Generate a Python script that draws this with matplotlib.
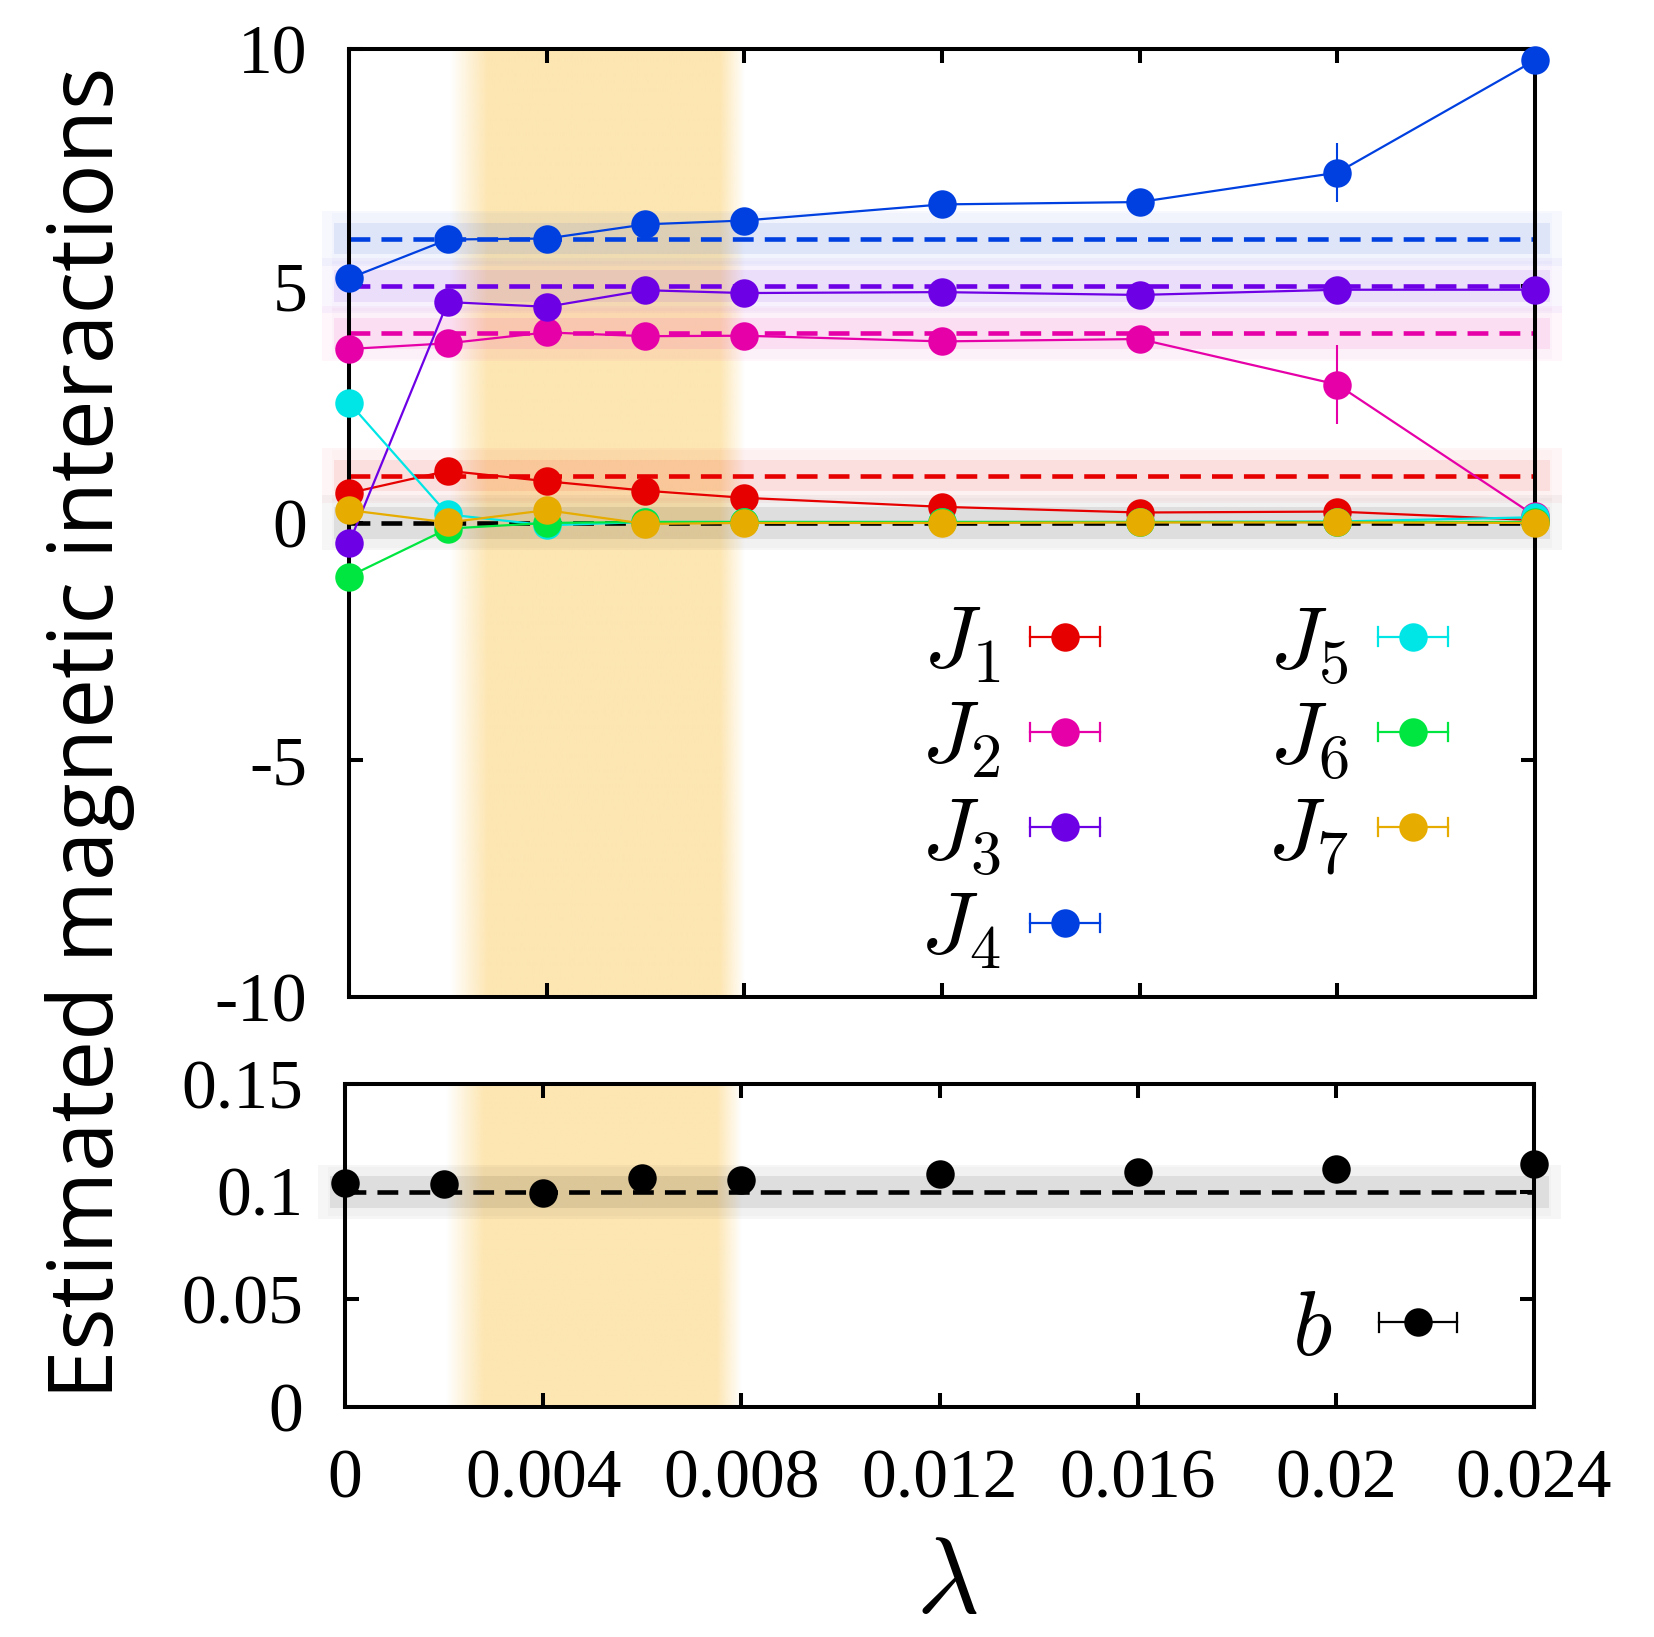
import numpy as np
import matplotlib
matplotlib.use("Agg")
import matplotlib.pyplot as plt
from matplotlib.lines import Line2D
from matplotlib.legend_handler import HandlerBase
from matplotlib.container import ErrorbarContainer
from matplotlib.ticker import FixedLocator, FuncFormatter

# ---------------- data ----------------
lam = [0.0, 0.002, 0.004, 0.006, 0.008, 0.012, 0.016, 0.020, 0.024]

J1 = [0.63, 1.10, 0.88, 0.68, 0.53, 0.34, 0.22, 0.24, 0.06]
J2 = [3.67, 3.79, 4.02, 3.94, 3.95, 3.83, 3.88, 2.92, 0.15]
J3 = [-0.43, 4.66, 4.56, 4.91, 4.85, 4.87, 4.81, 4.92, 4.92]
J4 = [5.16, 5.98, 6.00, 6.30, 6.38, 6.72, 6.77, 7.39, 9.76]
J5 = [2.54, 0.18, -0.05, 0.02, 0.02, 0.02, 0.02, 0.03, 0.12]
J6 = [-1.13, -0.12, 0.00, 0.02, 0.02, 0.02, 0.02, 0.02, 0.02]
J7 = [0.27, 0.01, 0.27, -0.02, 0.00, 0.00, 0.01, 0.01, 0.00]

J1_err = [0.51, 0.08, 0.08, 0.08, 0.08, 0.08, 0.10, 0.12, 0.05]
J2_err = [0.20, 0.10, 0.10, 0.10, 0.10, 0.10, 0.15, 0.83, 0.10]
J3_err = [0.98, 0.10, 0.10, 0.10, 0.10, 0.10, 0.10, 0.12, 0.10]
J4_err = [0.80, 0.10, 0.10, 0.10, 0.10, 0.10, 0.12, 0.62, 0.15]
J5_err = [0.64, 0.08, 0.08, 0.05, 0.05, 0.05, 0.05, 0.05, 0.05]
J6_err = [1.28, 0.08, 0.08, 0.05, 0.05, 0.05, 0.05, 0.05, 0.05]
J7_err = [2.06, 0.08, 0.08, 0.05, 0.05, 0.05, 0.05, 0.05, 0.05]

J_true = [1.0, 4.0, 5.0, 6.0, 0.0, 0.0, 0.0]

b_vals = [0.1042, 0.1035, 0.0996, 0.1064, 0.1055, 0.1081, 0.1091, 0.1106, 0.1129]
b_err = [0.0008] * 9
b_true = 0.1

labels = [r"$J_1$", r"$J_2$", r"$J_3$", r"$J_4$", r"$J_5$", r"$J_6$", r"$J_7$"]
colors = ["#e60000", "#e600a8", "#6e00e6", "#0040e0", "#00e6e6", "#00e640", "#e6ac00"]

x_ticks = [0.0, 0.004, 0.008, 0.012, 0.016, 0.020, 0.024]
y_ticks_top = [-10, -5, 0, 5, 10]
y_ticks_bot = [0.0, 0.05, 0.10, 0.15]

highlight = (0.0020, 0.0080)   # preferred regularisation window

# ---------------- style ----------------
plt.rcParams["font.family"] = ["Liberation Serif", "DejaVu Serif"]
plt.rcParams["mathtext.fontset"] = "cm"
plt.rcParams["axes.unicode_minus"] = False
plt.rcParams["lines.scale_dashes"] = False

fig = plt.figure(figsize=(16.54, 16.37), dpi=100)
ax = fig.add_axes([0.2110, 0.3910, 0.7170, 0.5791])
axb = fig.add_axes([0.2086, 0.1405, 0.7189, 0.1973])

FS_TICK = 50
DASH = (15, 8)
fmt = FuncFormatter(lambda v, p: "%g" % v)


def style_axes(a):
    for s in a.spines.values():
        s.set_linewidth(2.9)
        s.set_zorder(2.8)
    a.tick_params(direction="in", length=10, width=2.9, top=True, right=True,
                  labelsize=FS_TICK, pad=30)
    a.xaxis.set_major_locator(FixedLocator(x_ticks))
    a.xaxis.set_major_formatter(fmt)
    a.yaxis.set_major_formatter(fmt)
    a.set_xlim(0, 0.024)


def vertical_band(a, ylo, yhi):
    xs = np.linspace(highlight[0], highlight[1], 600)
    alpha = np.interp(xs, [0.00204, 0.0028, 0.0075, 0.0080], [0, 1, 1, 0])
    img = np.zeros((1, xs.size, 4))
    img[..., 0] = 253 / 255
    img[..., 1] = 230 / 255
    img[..., 2] = 178 / 255
    img[..., 3] = alpha
    a.imshow(img, extent=(highlight[0], highlight[1], ylo, yhi), aspect="auto",
             interpolation="bilinear", zorder=0)


def horizontal_band(a, y0, color, h_in, h_out):
    # soft two-level band around a reference value, spilling slightly past the frame
    layers = [(h_out, -0.00055, 0.02455, 0.035), (h_out * 0.92, -0.00035, 0.02435, 0.02),
              (h_in, -0.0003, 0.0243, 0.08)]
    for h, x0, x1, al in layers:
        a.fill_between([x0, x1], y0 - h, y0 + h, color=color, alpha=al, lw=0,
                       zorder=1, clip_on=False)


def draw_errorbar(a, xs, ys, es, c, z, **kw):
    eb = a.errorbar(xs, ys, yerr=es, color=c, marker="o", ms=20.5, mew=0,
                    elinewidth=1.5, capsize=5.4, capthick=1.5,
                    clip_on=False, zorder=z, **kw)
    # vertical bars sit beneath the frame, markers and caps above it
    for coll in eb.lines[2]:
        coll.set_zorder(2.6)
    return eb


# ---------------- top panel ----------------
style_axes(ax)
ax.set_ylim(-10, 10)
ax.yaxis.set_major_locator(FixedLocator(y_ticks_top))
ax.tick_params(labelbottom=False)
vertical_band(ax, -10, 10)

for i, (v, c) in enumerate(zip(J_true, colors)):
    if i < 4:
        horizontal_band(ax, v, c, 0.33, 0.58)
        ax.axhline(v, color=c, lw=3.3, dashes=DASH, zorder=2)
horizontal_band(ax, 0.0, "black", 0.33, 0.58)
ax.axhline(0.0, color="black", lw=3.3, dashes=DASH, zorder=2)

series = [J1, J2, J3, J4, J5, J6, J7]
errs = [J1_err, J2_err, J3_err, J4_err, J5_err, J6_err, J7_err]
containers = []
for i, (ys, es, c) in enumerate(zip(series, errs, colors)):
    containers.append(draw_errorbar(ax, lam, ys, es, c, 3 + 0.1 * i, lw=1.6))


class HErrHandler(HandlerBase):
    def create_artists(self, legend, orig_handle, xdescent, ydescent,
                       width, height, fontsize, trans):
        c = orig_handle.lines[0].get_color()
        x0, x1 = -xdescent, -xdescent + width
        y = 0.5 * height - ydescent
        cap = 6.5
        arts = [Line2D([x0, x1], [y, y], color=c, lw=1.6),
                Line2D([x0, x0], [y - cap, y + cap], color=c, lw=1.6),
                Line2D([x1, x1], [y - cap, y + cap], color=c, lw=1.6),
                Line2D([0.5 * (x0 + x1)], [y], marker="o", ms=20.5, mew=0,
                       color=c, ls="none")]
        for art in arts:
            art.set_transform(trans)
        return arts


ax.legend(containers, labels, ncol=2, markerfirst=False, frameon=False,
          fontsize=64, handlelength=0.79, handletextpad=0.33,
          columnspacing=1.88, labelspacing=0.16, borderpad=0,
          borderaxespad=0, loc="upper left", bbox_to_anchor=(0.4813, 0.413),
          handler_map={ErrorbarContainer: HErrHandler()})

# ---------------- bottom panel ----------------
style_axes(axb)
axb.set_ylim(0, 0.15)
axb.yaxis.set_major_locator(FixedLocator(y_ticks_bot))
vertical_band(axb, 0, 0.15)
horizontal_band(axb, b_true, "black", 0.0074, 0.0125)
axb.axhline(b_true, color="black", lw=3.3, dashes=DASH, zorder=2)
ebb = draw_errorbar(axb, lam, b_vals, b_err, "black", 3, ls="none")
axb.legend([ebb], [r"$b$"], markerfirst=False, frameon=False, fontsize=66,
           handlelength=0.85, handletextpad=0.515, borderpad=0, borderaxespad=0,
           loc="upper left", bbox_to_anchor=(0.796, 0.361),
           handler_map={ErrorbarContainer: HErrHandler()})

# ---------------- axis titles ----------------
fig.text(90 / 1654, 0.5522, "Estimated magnetic interactions", rotation=90,
         ha="center", va="center", fontsize=64, family=["Open Sans", "DejaVu Sans"])
fig.text(947 / 1654, 0.0005, r"$\lambda$", ha="center", va="bottom", fontsize=78)

fig.savefig("out.png", dpi=100)
